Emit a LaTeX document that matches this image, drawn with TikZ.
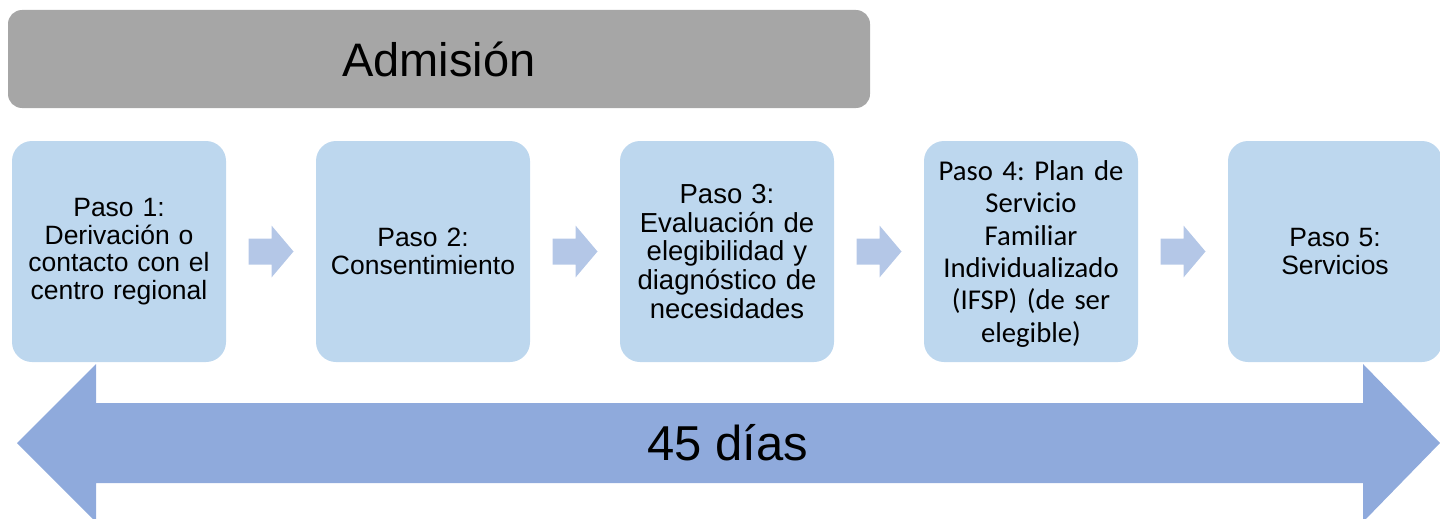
\documentclass[tikz,border=0pt]{standalone}
\usepackage{fontspec}
\setmainfont{Liberation Sans}
\newfontfamily\calibrifont{Carlito}
\usetikzlibrary{calc}
\frenchspacing
\definecolor{bargray}{HTML}{A6A6A6}
\definecolor{boxblue}{HTML}{BDD7EE}
\definecolor{chevblue}{HTML}{B4C7E7}
\definecolor{bigblue}{HTML}{8FAADC}
\tikzset{
  stepbox/.style={fill=boxblue, rounded corners=20pt, minimum width=214pt, minimum height=221pt,
    inner sep=0pt, text width=200pt, align=center, font=\frenchspacing\fontsize{26.5}{27.5}\selectfont},
  chev/.style={fill=chevblue},
  bigarrow/.style={fill=bigblue},
}
\begin{document}
\begin{tikzpicture}[x=1pt,y=-1pt]
\useasboundingbox (0,0) rectangle (1440,519);
% top bar
\node[fill=bargray, rounded corners=14pt, minimum width=862pt, minimum height=98pt, inner sep=0pt,
  font=\fontsize{47}{50}\selectfont] (adm) at (439,59) {Admisión};
% boxes
\node[stepbox] (b1) at (119,251.5) {\vphantom{g}Paso 1:\\Derivación o\\contacto con el\\centro regional};
\node[stepbox] (b2) at (423,251.5) {Paso 2:\\Consentimiento};
\node[stepbox, font=\frenchspacing\fontsize{27.5}{28.6}\selectfont] (b3) at (727,251.5) {Paso 3:\\Evaluación de\\elegibilidad y\\diagnóstico de\\necesidades};
\node[stepbox, font=\frenchspacing\calibrifont\fontsize{28.7}{32.4}\selectfont] (b4) at (1031,251.5) {\vphantom{(}\\[-29pt]Paso 4: Plan de\\Servicio\\Familiar\\Individualizado\\(IFSP) (de ser\\elegible)};
\node[stepbox] (b5) at (1335,251.5) {Paso 5:\\Servicios};
% chevrons
\foreach \a/\b in {b1/b2,b2/b3,b3/b4,b4/b5}{
  \coordinate (m) at ($(\a.east)!0.5!(\b.west)$);
  \fill[chev] ($(m)+(-22.5,-13)$) -- ($(m)+(0.5,-13)$) -- ($(m)+(0.5,-26)$) -- ($(m)+(22.5,0)$)
    -- ($(m)+(0.5,26)$) -- ($(m)+(0.5,13)$) -- ($(m)+(-22.5,13)$) -- cycle;
}
% big double arrow
\coordinate (lt) at (17,443);
\coordinate (rt) at (1440,443);
\fill[bigarrow] (lt) -- ($(lt)+(79,-79)$) -- ($(lt)+(79,-40)$) -- ($(rt)+(-77,-40)$) -- ($(rt)+(-77,-79)$)
  -- (rt) -- ($(rt)+(-77,79)$) -- ($(rt)+(-77,40)$) -- ($(lt)+(79,40)$) -- ($(lt)+(79,79)$) -- cycle;
\node[font=\fontsize{49}{52}\selectfont, inner sep=0pt] (days) at (728,443) {45 días};
\end{tikzpicture}
\end{document}
